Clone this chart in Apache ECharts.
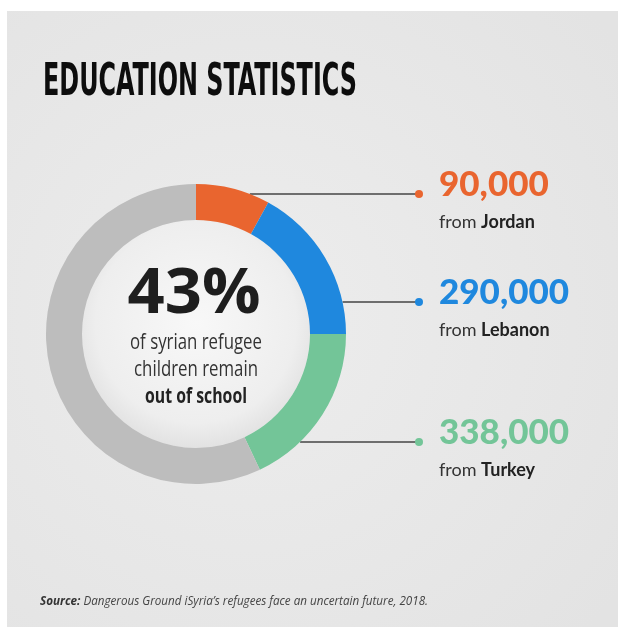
<!DOCTYPE html>
<html>
<head>
<meta charset="UTF-8">
<title>Education statistics</title>
<script src="https://cdn.jsdelivr.net/npm/echarts@6/dist/echarts.min.js"></script>
<style>
	html, body { margin: 0; padding: 0; background: #fff; }
	#chartArea { width: 618px; height: 629px; }
</style>
</head>
<body>
<div id="chartArea"></div>
<script type="text/javascript">
// data
var countries = ['Jordan', 'Lebanon', 'Turkey'];
var amounts = ['90,000', '290,000', '338,000'];
var shares = [8, 17, 18];      // share of the ring for each arc (%)
var restShare = 57;            // grey part of the ring
var centerValue = '43%';
var centerLines = ['of syrian refugee', 'children remain', 'out of school'];
var colors = ['#e9652f', '#1f88de', '#73c598'];
var restColor = '#bdbdbd';

// layout
var cx = 196, cy = 334, rIn = 114, rOut = 150;
var labelY = [194, 302, 442];
var dotX = 419, textX = 439;

var canvas = document.createElement('canvas');
var ctx = canvas.getContext('2d');
function fit(text, font, target) {
	ctx.font = font;
	return target / ctx.measureText(text).width;
}

var titleFont = 'bold 44px "Liberation Sans Narrow", "DejaVu Sans Condensed", sans-serif';
var bigFont = 'bold 63px "Open Sans", sans-serif';
var smallFont = '21px "Open Sans", sans-serif';
var smallBold = 'bold 21px "Open Sans", sans-serif';

var pieData = [];
for (var i = 0; i < shares.length; i++) {
	pieData.push({
		name: countries[i],
		value: shares[i],
		itemStyle: { color: colors[i] },
		label: {
			formatter: '{num|' + amounts[i] + '}\n{from|from }{name|' + countries[i] + '}',
			rich: {
				num: { fontFamily: 'Lato', fontWeight: 900, fontSize: 35, color: colors[i], lineHeight: 54 },
				from: { fontFamily: 'Lato', fontSize: 18, color: '#333', lineHeight: 20 },
				name: { fontFamily: 'Lato', fontWeight: 'bold', fontSize: 18, color: '#222', lineHeight: 20 }
			}
		}
	});
}
pieData.push({
	name: 'rest',
	value: restShare,
	itemStyle: { color: restColor },
	label: { show: false },
	labelLine: { show: false }
});

var graphics = [{
	type: 'rect',
	z: -10,
	shape: { x: 7, y: 11, width: 611, height: 616 },
	style: {
		fill: {
			type: 'radial', x: 0.4, y: 0.5, r: 0.75,
			colorStops: [{ offset: 0, color: '#ededed' }, { offset: 1, color: '#e3e3e3' }]
		}
	}
}, {
	type: 'text',
	x: 43, y: 84,
	scaleX: fit('EDUCATION STATISTICS', titleFont, 314),
	z: 100,
	style: { text: 'EDUCATION STATISTICS', font: titleFont, fill: '#0d0d0d', align: 'left', verticalAlign: 'middle' }
}, {
	type: 'text',
	x: 194, y: 295,
	scaleX: fit(centerValue, bigFont, 133),
	z: 100,
	style: { text: centerValue, font: bigFont, fill: '#1e1e1e', align: 'center', verticalAlign: 'middle' }
}];

var sScale = fit(centerLines[0], smallFont, 132);
for (var k = 0; k < centerLines.length; k++) {
	var f = k === 2 ? smallBold : smallFont;
	graphics.push({
		type: 'text',
		x: 196, y: 343 + k * 27,
		scaleX: k === 2 ? fit(centerLines[2], smallBold, 102) : sScale,
		z: 100,
		style: { text: centerLines[k], font: f, fill: k === 2 ? '#222' : '#333', align: 'center', verticalAlign: 'middle' }
	});
}
for (var d = 0; d < labelY.length; d++) {
	graphics.push({
		type: 'circle', z: 100,
		shape: { cx: dotX, cy: labelY[d], r: 4 },
		style: { fill: colors[d] }
	});
}
var srcA = 'Source: ', srcB = 'Dangerous Ground iSyria\u2019s refugees face an uncertain future, 2018.';
ctx.font = 'italic bold 12px "Open Sans", sans-serif';
var wA = ctx.measureText(srcA).width;
ctx.font = 'italic 12px "Open Sans", sans-serif';
var wB = ctx.measureText(srcB).width;
graphics.push({
	type: 'text',
	x: 40, y: 602,
	scaleX: 388 / (wA + wB),
	z: 100,
	style: {
		text: '{a|' + srcA + '}{b|' + srcB + '}',
		verticalAlign: 'middle',
		rich: {
			a: { fontFamily: 'Open Sans', fontStyle: 'italic', fontWeight: 'bold', fontSize: 12, fill: '#333' },
			b: { fontFamily: 'Open Sans', fontStyle: 'italic', fontSize: 12, fill: '#444' }
		}
	}
});

var myChart = echarts.init(document.getElementById('chartArea'));
var option = {
	animation: false,
	graphic: graphics,
	series: [{
		// inner disc
		type: 'pie',
		silent: true,
		center: [cx, cy],
		radius: [0, rIn],
		label: { show: false },
		labelLine: { show: false },
		itemStyle: {
			color: {
				type: 'radial', x: 0.5, y: 0.45, r: 0.55,
				colorStops: [{ offset: 0, color: '#f8f8f8' }, { offset: 0.8, color: '#eeeeee' }, { offset: 1, color: '#e2e2e2' }]
			}
		},
		data: [1]
	}, {
		type: 'pie',
		center: [cx, cy],
		radius: [rIn, rOut],
		startAngle: 90,
		clockwise: true,
		avoidLabelOverlap: false,
		label: { show: true, position: 'outside' },
		labelLine: { show: true, lineStyle: { color: '#444', width: 1.5 } },
		emphasis: { disabled: true },
		labelLayout: function (params) {
			var i = params.dataIndex;
			if (i >= labelY.length) return {};
			var y = labelY[i];
			var x0 = cx + Math.sqrt(rOut * rOut - (y - cy) * (y - cy));
			return {
				x: textX, y: y + 1, align: 'left', verticalAlign: 'middle',
				labelLinePoints: [[x0, y], [dotX, y]]
			};
		},
		data: pieData
	}]
};
myChart.setOption(option);
</script>
</body>
</html>
